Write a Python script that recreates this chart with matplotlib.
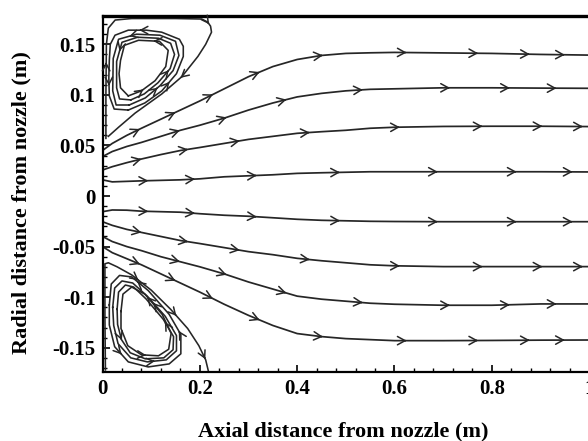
import numpy as np
import matplotlib
matplotlib.use('Agg')
import matplotlib.pyplot as plt
from matplotlib.ticker import MultipleLocator

# main jet streamlines (x in m, y in m)
flow_x = [0.0, 0.02, 0.05, 0.08, 0.12, 0.16, 0.2, 0.25, 0.3, 0.35, 0.4, 0.45, 0.5, 0.55, 0.6, 0.7, 0.8, 0.9, 1.05]
up1_y = [0.045, 0.052, 0.060, 0.067, 0.076, 0.085, 0.094, 0.106, 0.118, 0.128, 0.135, 0.139, 0.141, 0.1416, 0.142, 0.1415, 0.141, 0.140, 0.139]
up2_y = [0.039, 0.044, 0.049, 0.053, 0.059, 0.065, 0.070, 0.077, 0.085, 0.092, 0.098, 0.1015, 0.104, 0.1055, 0.106, 0.107, 0.107, 0.1067, 0.1064]
up3_y = [0.0257, 0.029, 0.033, 0.0366, 0.041, 0.045, 0.048, 0.052, 0.056, 0.059, 0.062, 0.0636, 0.065, 0.067, 0.068, 0.0688, 0.069, 0.069, 0.0685]
up4_y = [0.016, 0.014, 0.0145, 0.015, 0.0155, 0.016, 0.017, 0.019, 0.020, 0.021, 0.0224, 0.023, 0.0235, 0.024, 0.024, 0.024, 0.024, 0.024, 0.0237]
lo4_y = [-0.0155, -0.0138, -0.014, -0.015, -0.0155, -0.016, -0.0175, -0.019, -0.020, -0.0215, -0.023, -0.024, -0.0245, -0.025, -0.0252, -0.0254, -0.0254, -0.0254, -0.0254]
lo3_y = [-0.0254, -0.029, -0.033, -0.036, -0.040, -0.044, -0.047, -0.051, -0.055, -0.058, -0.0616, -0.064, -0.066, -0.068, -0.069, -0.0698, -0.0698, -0.0698, -0.0698]
lo2_y = [-0.040, -0.045, -0.050, -0.054, -0.060, -0.065, -0.070, -0.077, -0.085, -0.092, -0.099, -0.102, -0.104, -0.106, -0.107, -0.108, -0.108, -0.1067, -0.1067]
lo1_y = [-0.050, -0.056, -0.062, -0.068, -0.077, -0.086, -0.095, -0.107, -0.118, -0.128, -0.136, -0.139, -0.141, -0.142, -0.143, -0.143, -0.1428, -0.1425, -0.1423]

# arrow positions along the main lines (x)
arr_a = [0.077, 0.15, 0.227, 0.323, 0.453, 0.625, 0.772, 0.878, 0.95]
arr_b = [0.159, 0.255, 0.378, 0.535, 0.714, 0.837, 0.933]
arr_c = [0.08, 0.176, 0.282, 0.426, 0.611, 0.781, 0.904, 0.987]
arr_d = [0.094, 0.19, 0.317, 0.488, 0.689, 0.851, 0.966]

# upper recirculation zone
uv1_x = [0.053, 0.087, 0.122, 0.152, 0.166, 0.166, 0.158, 0.1216, 0.09, 0.053, 0.0257, 0.016, 0.0140, 0.013, 0.0140, 0.024, 0.053]
uv1_y = [0.085, 0.092, 0.104, 0.121, 0.138, 0.148, 0.155, 0.162, 0.164, 0.164, 0.159, 0.150, 0.134, 0.117, 0.099, 0.086, 0.085]
uv2_x = [0.055, 0.088, 0.118, 0.145, 0.157, 0.150, 0.118, 0.07, 0.033, 0.022, 0.021, 0.028, 0.055]
uv2_y = [0.090, 0.097, 0.109, 0.124, 0.139, 0.153, 0.159, 0.160, 0.155, 0.136, 0.104, 0.090, 0.090]
uv3_x = [0.058, 0.086, 0.114, 0.139, 0.148, 0.140, 0.115, 0.072, 0.040, 0.029, 0.029, 0.035, 0.058]
uv3_y = [0.095, 0.101, 0.112, 0.126, 0.140, 0.151, 0.156, 0.157, 0.152, 0.133, 0.107, 0.096, 0.095]
uv4_x = [0.053, 0.080, 0.108, 0.130, 0.135, 0.117, 0.074, 0.045, 0.037, 0.034, 0.037, 0.053]
uv4_y = [0.099, 0.104, 0.114, 0.128, 0.144, 0.153, 0.154, 0.149, 0.134, 0.121, 0.107, 0.099]
usep_x = [0.007, 0.007, 0.008, 0.012, 0.026, 0.06, 0.10, 0.15, 0.204, 0.216, 0.222, 0.224, 0.212, 0.196, 0.163, 0.122, 0.067, 0.033, 0.012]
usep_y = [0.057, 0.10, 0.150, 0.166, 0.174, 0.1755, 0.1755, 0.1755, 0.175, 0.172, 0.168, 0.162, 0.150, 0.138, 0.118, 0.101, 0.082, 0.068, 0.059]

# lower recirculation zone
lv1_x = [0.0140, 0.0140, 0.025, 0.053, 0.094, 0.137, 0.161, 0.161, 0.137, 0.094, 0.060, 0.035, 0.018, 0.0140]
lv1_y = [-0.1077, -0.1275, -0.149, -0.164, -0.169, -0.166, -0.156, -0.137, -0.1170, -0.0935, -0.0800, -0.0785, -0.087, -0.1077]
lv2_x = [0.021, 0.023, 0.032, 0.058, 0.092, 0.131, 0.152, 0.152, 0.129, 0.092, 0.062, 0.040, 0.025, 0.021]
lv2_y = [-0.110, -0.128, -0.146, -0.160, -0.164, -0.162, -0.153, -0.138, -0.119, -0.099, -0.086, -0.084, -0.091, -0.110]
lv3_x = [0.030, 0.031, 0.039, 0.057, 0.088, 0.126, 0.145, 0.146, 0.125, 0.090, 0.064, 0.047, 0.033, 0.030]
lv3_y = [-0.112, -0.127, -0.142, -0.155, -0.161, -0.160, -0.152, -0.139, -0.122, -0.102, -0.090, -0.088, -0.095, -0.112]
lv4_x = [0.038, 0.038, 0.052, 0.080, 0.115, 0.136, 0.141, 0.1226, 0.087, 0.060, 0.042, 0.038]
lv4_y = [-0.114, -0.131, -0.148, -0.1570, -0.158, -0.1515, -0.1357, -0.1170, -0.097, -0.090, -0.097, -0.114]
lsep_x = [0.006, 0.005, 0.005, 0.012, 0.03, 0.06, 0.10, 0.14, 0.175, 0.198, 0.212, 0.218]
lsep_y = [-0.172, -0.12, -0.067, -0.066, -0.070, -0.078, -0.093, -0.112, -0.131, -0.148, -0.162, -0.174]

col = '#262626'
plt.rcParams['font.family'] = 'Liberation Serif'
plt.rcParams['font.weight'] = 'bold'

fig = plt.figure(figsize=(5.88, 4.41), dpi=100)
ax = fig.add_axes([102.5 / 588, 69 / 441, 511 / 588, 356 / 441])


def arrow_at(x0, y0, x1, y1, hl=0.55, hw=0.3):
    ax.annotate('', xy=(x1, y1), xytext=(x0, y0),
                arrowprops=dict(arrowstyle='->,head_length=%s,head_width=%s' % (hl, hw),
                                color=col, lw=1.1, shrinkA=0, shrinkB=0))


def flow_line(ys, arrows):
    ax.plot(flow_x, ys, color=col, lw=1.25)
    for xa in arrows:
        ya = np.interp(xa, flow_x, ys)
        yb = np.interp(xa - 0.004, flow_x, ys)
        arrow_at(xa - 0.004, yb, xa, ya)


def path_line(xs, ys, fracs, hl=0.5, hw=0.27):
    ax.plot(xs, ys, color=col, lw=1.15)
    xs = np.asarray(xs)
    ys = np.asarray(ys)
    seg = np.hypot(np.diff(xs), np.diff(ys) * 2)
    s = np.concatenate([[0], np.cumsum(seg)])
    for f in fracs:
        t = f * s[-1]
        xa, ya = np.interp(t, s, xs), np.interp(t, s, ys)
        xb, yb = np.interp(t - 0.003, s, xs), np.interp(t - 0.003, s, ys)
        arrow_at(xb, yb, xa, ya, hl, hw)


flow_line(up1_y, arr_a)
flow_line(up2_y, arr_b)
flow_line(up3_y, arr_c)
flow_line(up4_y, arr_d)
flow_line(lo4_y, arr_d)
flow_line(lo3_y, arr_c)
flow_line(lo2_y, arr_b)
flow_line(lo1_y, arr_a)

path_line(uv1_x, uv1_y, [0.2, 0.55, 0.85])
path_line(uv2_x, uv2_y, [0.15, 0.6])
path_line(uv3_x, uv3_y, [0.25, 0.7])
path_line(uv4_x, uv4_y, [0.1, 0.5])
path_line(usep_x, usep_y, [0.2, 0.58, 0.75])
path_line(lv1_x, lv1_y, [0.2, 0.55, 0.8])
path_line(lv2_x, lv2_y, [0.35, 0.7])
path_line(lv3_x, lv3_y, [0.15, 0.6])
path_line(lv4_x, lv4_y, [0.3, 0.75])
path_line(lsep_x, lsep_y, [0.55, 0.75, 0.95])

ax.set_xlim(0, 1.05)
ax.set_ylim(-0.174, 0.178)
ax.set_xticks([0, 0.2, 0.4, 0.6, 0.8, 1.0])
ax.set_xticklabels(['0', '0.2', '0.4', '0.6', '0.8', '1'])
ax.set_yticks([-0.15, -0.1, -0.05, 0, 0.05, 0.1, 0.15])
ax.set_yticklabels(['-0.15', '-0.1', '-0.05', '0', '0.05', '0.1', '0.15'])
ax.xaxis.set_minor_locator(MultipleLocator(0.04))
ax.yaxis.set_minor_locator(MultipleLocator(0.01))
ax.tick_params(which='major', direction='in', length=5, width=1.2, labelsize=15, pad=5)
ax.tick_params(which='minor', direction='in', length=3, width=1.0)
ax.spines['right'].set_visible(False)
ax.spines['top'].set_linewidth(2.4)
ax.spines['left'].set_linewidth(1.6)
ax.spines['bottom'].set_linewidth(1.6)

fig.text(343 / 588, 1 - 431 / 441, 'Axial distance from nozzle (m)', ha='center', va='center',
         fontsize=16, fontweight='bold')
fig.text(21 / 588, 1 - 203 / 441, 'Radial distance from nozzle (m)', ha='center', va='center',
         rotation=90, fontsize=16, fontweight='bold')

fig.savefig('out.png', dpi=100)
